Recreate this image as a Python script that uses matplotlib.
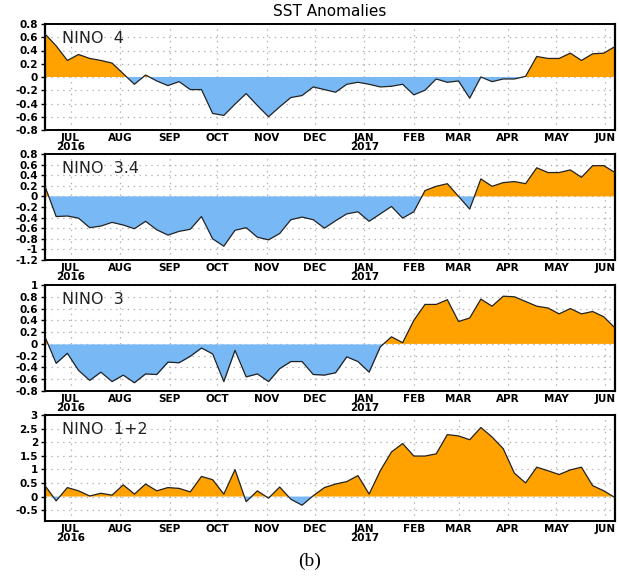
import numpy as np
import matplotlib
matplotlib.use('Agg')
import matplotlib.pyplot as plt
import matplotlib.dates as mdates
from datetime import date, timedelta

# weekly OISST anomalies, weeks centred on Wednesday, 15 Jun 2016 .. 7 Jun 2017
start = date(2016, 6, 15)
weeks = [start + timedelta(days=7 * i) for i in range(52)]

nino4 = [0.65, 0.47, 0.25, 0.34, 0.28, 0.25, 0.21, 0.05, -0.11, 0.03,
         -0.06, -0.13, -0.07, -0.19, -0.19, -0.55, -0.58, -0.41, -0.25, -0.43,
         -0.60, -0.45, -0.31, -0.28, -0.15, -0.19, -0.23, -0.11, -0.08, -0.11,
         -0.15, -0.14, -0.11, -0.27, -0.20, -0.03, -0.08, -0.06, -0.32, 0.00,
         -0.07, -0.03, -0.03, 0.01, 0.31, 0.28, 0.28, 0.36, 0.25, 0.35,
         0.36, 0.46]
nino34 = [0.19, -0.38, -0.37, -0.41, -0.59, -0.56, -0.49, -0.54, -0.61, -0.47,
          -0.63, -0.73, -0.66, -0.62, -0.38, -0.80, -0.94, -0.64, -0.59, -0.77,
          -0.82, -0.70, -0.44, -0.39, -0.44, -0.60, -0.46, -0.33, -0.29, -0.47,
          -0.33, -0.19, -0.41, -0.29, 0.11, 0.19, 0.24, 0.00, -0.24, 0.33,
          0.19, 0.26, 0.28, 0.24, 0.54, 0.45, 0.45, 0.50, 0.36, 0.58,
          0.58, 0.45]
nino3 = [0.12, -0.33, -0.16, -0.45, -0.62, -0.48, -0.64, -0.53, -0.66, -0.51,
         -0.52, -0.31, -0.32, -0.21, -0.07, -0.17, -0.64, -0.11, -0.56, -0.51,
         -0.64, -0.42, -0.30, -0.30, -0.52, -0.53, -0.49, -0.22, -0.30, -0.48,
         -0.05, 0.12, 0.02, 0.40, 0.67, 0.67, 0.75, 0.38, 0.44, 0.76,
         0.64, 0.81, 0.80, 0.72, 0.64, 0.61, 0.51, 0.60, 0.51, 0.55,
         0.46, 0.27]
nino12 = [0.40, -0.16, 0.33, 0.21, 0.02, 0.12, 0.05, 0.43, 0.09, 0.46,
          0.21, 0.33, 0.30, 0.17, 0.74, 0.62, 0.09, 0.99, -0.19, 0.21,
          -0.06, 0.35, -0.10, -0.32, 0.03, 0.33, 0.46, 0.55, 0.77, 0.09,
          0.95, 1.64, 1.95, 1.49, 1.49, 1.57, 2.28, 2.23, 2.09, 2.54,
          2.19, 1.76, 0.86, 0.50, 1.08, 0.95, 0.81, 0.98, 1.08, 0.40,
          0.21, -0.04]

names = ['NINO  4', 'NINO  3.4', 'NINO  3', 'NINO  1+2']
series = [nino4, nino34, nino3, nino12]
ylims = [(-0.8, 0.8), (-1.2, 0.8), (-0.8, 1.0), (-0.9, 3.0)]
yticks = [np.arange(-0.8, 0.81, 0.2), np.arange(-1.2, 0.81, 0.2),
          np.arange(-0.8, 1.01, 0.2), np.arange(-0.5, 3.01, 0.5)]

orange = '#ffa200'
blue = '#78b8f5'

fig = plt.figure(figsize=(6.19, 5.77), dpi=100)
W, H = 619, 577
tops = [24, 154, 285, 415]
x = mdates.date2num(weeks)


def fmt_tick(v):
    s = ('%.1f' % v).rstrip('0').rstrip('.')
    if s in ('-0', ''):
        s = '0'
    return s


def fmt_month(v, pos=None):
    d = mdates.num2date(v)
    lab = d.strftime('%b').upper()
    if d.month in (7, 1):
        lab += '\n%d' % d.year
    return lab


for i in range(4):
    ax = fig.add_axes([45 / W, 1 - (tops[i] + 106) / H, 570 / W, 106 / H])
    ax.set_axisbelow(True)
    y = np.array(series[i])
    ax.fill_between(x, y, 0, where=y >= 0, interpolate=True, color=orange,
                    lw=0, zorder=2)
    ax.fill_between(x, y, 0, where=y <= 0, interpolate=True, color=blue,
                    lw=0, zorder=2)
    ax.plot(x, y, color='#222222', lw=0.9, zorder=3)
    ax.set_xlim(x[0], x[-1])
    ax.set_ylim(*ylims[i])
    ax.set_yticks(yticks[i])
    ax.set_yticklabels([fmt_tick(v) for v in yticks[i]])
    ax.xaxis.set_major_locator(mdates.MonthLocator())
    ax.xaxis.set_major_formatter(plt.FuncFormatter(fmt_month))
    ax.grid(True, color='#b5b5b5', linestyle=(0, (1.2, 3.5)), lw=0.9)
    ax.tick_params(axis='x', length=0, pad=2, labelsize=7.5)
    ax.tick_params(axis='y', length=3, width=1, pad=2, labelsize=7.5)
    for lab in ax.get_xticklabels() + ax.get_yticklabels():
        lab.set_fontweight('bold')
        lab.set_linespacing(0.85)
    for side in ['left', 'right']:
        ax.spines[side].set_linewidth(1.6)
    for side in ['top', 'bottom']:
        ax.spines[side].set_linewidth(1.4)
        ax.spines[side].set_linestyle((0, (3, 1)))
    ax.text(0.03, 0.93, names[i], transform=ax.transAxes, fontsize=11.5,
            va='top', ha='left', color='#222222', zorder=5)

fig.text(330 / W, 1 - 12 / H, 'SST Anomalies', ha='center', va='center',
         fontsize=11)
fig.text(310 / W, 1 - 561 / H, '(b)', ha='center', va='center',
         fontsize=14, family='Liberation Serif')

fig.savefig('out.png', dpi=100)
